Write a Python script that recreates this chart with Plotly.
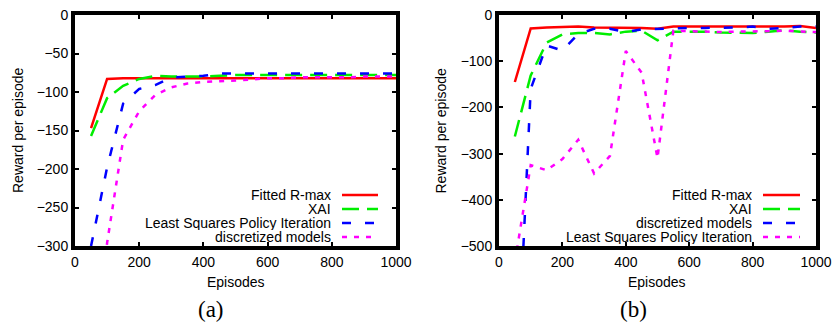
import plotly.graph_objects as go
from plotly.subplots import make_subplots

episodes = [50, 100, 150, 200, 250, 300, 350, 400, 450, 500,
            550, 600, 650, 700, 750, 800, 850, 900, 950, 1000]

# (a)
a_rmax = [-147, -83, -82, -82, -82, -82, -82, -82, -82, -82,
          -82, -82, -82, -82, -82, -82, -82, -82, -82, -82]
a_xai = [-157, -108, -92, -83, -79, -80, -80, -80, -79, -78,
         -78, -78, -78, -78, -78, -78, -78, -78, -78, -78]
a_lspi = [-300, -198, -115, -96, -91, -81, -80, -79, -76, -76,
          -76, -76, -76, -76, -76, -76, -76, -76, -76, -76]
a_disc = [-500, -296, -162, -125, -104, -94, -89, -87, -86, -85,
          -84, -82, -82, -81, -81, -81, -81, -80, -80, -80]

# (b)
b_rmax = [-145, -29, -27, -26, -25, -27, -27, -28, -28, -30,
          -25, -25, -25, -25, -25, -25, -26, -25, -24, -28]
b_xai = [-263, -131, -60, -42, -39, -39, -42, -36, -34, -55,
         -36, -36, -36, -38, -39, -39, -36, -33, -36, -38]
b_disc = [-900, -160, -66, -77, -41, -30, -30, -37, -31, -30,
          -28, -28, -28, -28, -27, -25, -30, -28, -25, -25]
b_lspi = [-535, -325, -336, -312, -270, -343, -305, -78, -125, -310,
          -34, -35, -35, -37, -36, -36, -35, -34, -35, -37]

x_ticks = [0, 200, 400, 600, 800, 1000]
a_yticks = [0, -50, -100, -150, -200, -250, -300]
b_yticks = [0, -100, -200, -300, -400, -500]

RED, GREEN, BLUE, MAG = "#ff0000", "#00ee00", "#0000ff", "#ff00ff"
D_SOLID, D_LONG, D_DASH, D_DOT = "solid", "17px,8px", "9px,14px", "5px,7px"

fig = make_subplots(rows=1, cols=2)

a_series = [("Fitted R-max", a_rmax, RED, D_SOLID),
            ("XAI", a_xai, GREEN, D_LONG),
            ("Least Squares Policy Iteration", a_lspi, BLUE, D_DASH),
            ("discretized models", a_disc, MAG, D_DOT)]
b_series = [("Fitted R-max", b_rmax, RED, D_SOLID),
            ("XAI", b_xai, GREEN, D_LONG),
            ("discretized models", b_disc, BLUE, D_DASH),
            ("Least Squares Policy Iteration", b_lspi, MAG, D_DOT)]

for col, series in ((1, a_series), (2, b_series)):
    for name, vals, color, dash in series:
        fig.add_trace(go.Scatter(x=episodes, y=vals, mode="lines", name=name,
                                 line=dict(color=color, width=2.5, dash=dash),
                                 showlegend=False), row=1, col=col)

W, H = 836, 322
ytop, ybot = 15, 246
ydom = [1 - ybot / H, 1 - ytop / H]
dom_a = (75, 396)
dom_b = (499, 816)
fig.update_layout(
    width=W, height=H, margin=dict(l=0, r=0, t=0, b=0),
    paper_bgcolor="white", plot_bgcolor="white",
    font=dict(family="Liberation Sans, Arial, sans-serif", size=14, color="black"),
    xaxis=dict(domain=[dom_a[0] / W, dom_a[1] / W]),
    xaxis2=dict(domain=[dom_b[0] / W, dom_b[1] / W]),
    yaxis=dict(domain=ydom), yaxis2=dict(domain=ydom),
)
axis_common = dict(showgrid=False, zeroline=False, showline=True, linecolor="black",
                   linewidth=4, mirror="allticks", ticks="inside", ticklen=4,
                   tickwidth=2, tickcolor="black", automargin=False)
for c in (1, 2):
    fig.update_xaxes(range=[0, 1000], tickvals=x_ticks, row=1, col=c, **axis_common)
fig.update_yaxes(range=[-300, 0], tickvals=a_yticks, row=1, col=1, **axis_common)
fig.update_yaxes(range=[-500, 0], tickvals=b_yticks, row=1, col=2, **axis_common)

# axis titles
for cx in (235.5, 657):
    fig.add_annotation(xref="paper", yref="paper", x=cx / W, y=1 - 282 / H,
                       text="Episodes", showarrow=False, xanchor="center",
                       yanchor="middle", font=dict(size=14))
for cx in (17.5, 440):
    fig.add_annotation(xref="paper", yref="paper", x=cx / W, y=1 - 130.5 / H,
                       text="Reward per episode", showarrow=False, textangle=-90,
                       xanchor="center", yanchor="middle", font=dict(size=14))

# gnuplot-style key: text right-aligned, sample to the right
def add_key(xname, yname, x0px, x1px, dom, series):
    rows_px = [195, 209, 223, 237]
    d0, d1 = dom
    w = d1 - d0
    for (name, _, color, dash), ypx in zip(series, rows_px):
        yd = (ybot - ypx) / (ybot - ytop)
        fig.add_annotation(xref=xname + " domain", yref=yname + " domain",
                           x=(x0px - 9 - d0) / w, y=yd, text=name, height=14,
                           showarrow=False, xanchor="right", yanchor="middle",
                           valign="middle", font=dict(size=14))
        fig.add_shape(type="line", xref=xname + " domain", yref=yname + " domain",
                      x0=(x0px - d0) / w, x1=(x1px - d0) / w, y0=yd, y1=yd,
                      line=dict(color=color, width=2.5, dash=dash))

add_key("x", "y", 342, 378, dom_a, a_series)
add_key("x2", "y2", 763, 800, dom_b, b_series)

for txt, xpx in (("(a)", 211), ("(b)", 633)):
    fig.add_annotation(xref="paper", yref="paper", x=xpx / W, y=1 - 309 / H,
                       text=txt, showarrow=False, xanchor="center", yanchor="middle",
                       font=dict(family="Liberation Serif, serif", size=23))

fig.write_html("out.html", config={"displayModeBar": False},
               post_script="document.body.style.margin='0px';"
                           "document.body.style.overflow='hidden';")
